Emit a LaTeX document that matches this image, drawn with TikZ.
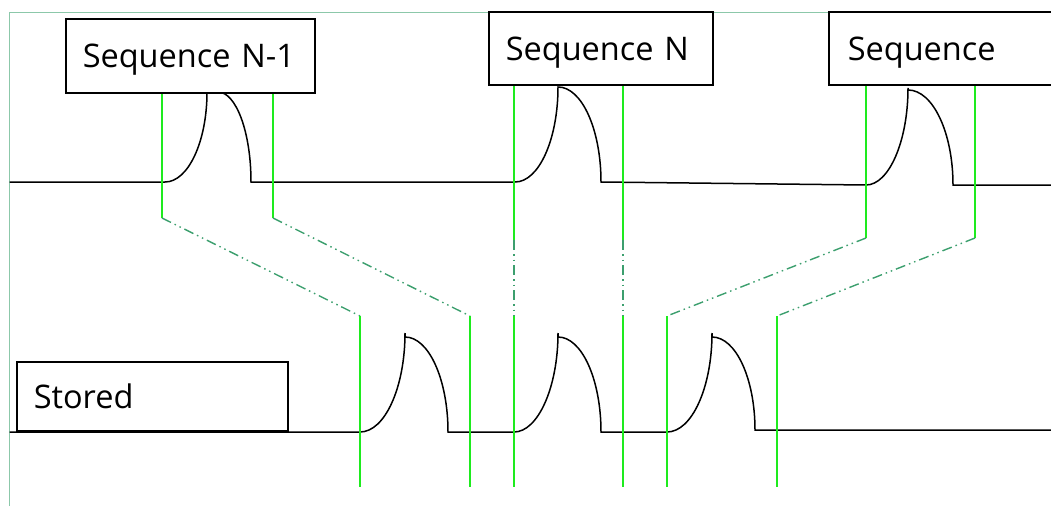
\documentclass[tikz,border=0pt]{standalone}
\usepackage{fontspec}
\setmainfont{Open Sans}
\usetikzlibrary{positioning}
\definecolor{gatecol}{HTML}{1EEB1E}
\definecolor{linkcol}{HTML}{3C9F6E}
\definecolor{framecol}{HTML}{8CC8AA}

\begin{document}
\begin{tikzpicture}[x=1pt,y=-1pt,
  signal/.style={line width=1.5pt,black},
  gateline/.style={line width=1.5pt,gatecol},
  linkline/.style={line width=1.4pt,linkcol,dash pattern=on 10pt off 4pt on 1.5pt off 4pt on 1.5pt off 4pt},
  labelbox/.style={draw,line width=1.5pt,fill=white,anchor=north west,align=left,
    inner xsep=17pt,inner ysep=0pt,text depth=0pt,font=\fontsize{32.5}{38}\selectfont}]
  \useasboundingbox (0,0) rectangle (1051,506);
  \draw[framecol,line width=0.8pt] (9.5,506) -- (9.5,12) -- (1051,12);

  % upper trace
  \draw[signal] (9.5,182) -- (165,182) .. controls (188,182) and (207,142) .. (207,92)
    -- (218,92) .. controls (236,92) and (251,132) .. (251,182)
    -- (515,182) .. controls (539,182) and (558,139) .. (558,87)
    .. controls (582,87) and (601,130) .. (601,182)
    -- (866,185) .. controls (889,185) and (908,141) .. (908,88)
    -- (908,90) .. controls (933,90) and (953,133) .. (953,185) -- (1051,185);

  % lower trace
  \draw[signal] (9.5,432) -- (360,432) .. controls (385,432) and (405,387) .. (405,333)
    -- (405,337) .. controls (429,337) and (448,380) .. (448,432)
    -- (514,432) .. controls (538,432) and (558,387) .. (558,333)
    -- (558,337) .. controls (582,337) and (601,380) .. (601,432)
    -- (667,432) .. controls (692,432) and (712,387) .. (712,333)
    -- (712,337) .. controls (736,337) and (755,379) .. (755,430) -- (1051,430);

  % gate marks
  \coordinate (upA) at (162,218);  \coordinate (lowA) at (360,316);
  \coordinate (upB) at (273,218);  \coordinate (lowB) at (470,316);
  \coordinate (upC) at (514,240);  \coordinate (lowC) at (514,316);
  \coordinate (upD) at (623,240);  \coordinate (lowD) at (623,316);
  \coordinate (upE) at (866,238);  \coordinate (lowE) at (667,316);
  \coordinate (upF) at (975,238);  \coordinate (lowF) at (777,316);

  \draw[gateline] (162,92) -- (upA);
  \draw[gateline] (273,92) -- (upB);
  \draw[gateline] (514,84) -- (upC);
  \draw[gateline] (623,84) -- (upD);
  \draw[gateline] (866,84) -- (upE);
  \draw[gateline] (975,84) -- (upF);
  \foreach \g in {A,B,C,D,E,F}{
    \draw[linkline] (up\g) -- (low\g);
    \draw[gateline] (low\g) -- ++(0,171);
  }

  \node[labelbox,text width=215pt,minimum height=74pt] (seqprev) at (65,18) {Sequence N-1};
  \node[labelbox,text width=190pt,minimum height=73pt] (seqcur) at (488,11) {Sequence N};
  \node[labelbox,inner xsep=19pt,text width=200pt,minimum height=73pt] (seqnext) at (828,11) {Sequence};
  \node[labelbox,text width=237pt,minimum height=69pt] (stored) at (16,361) {Stored};
\end{tikzpicture}
\end{document}
